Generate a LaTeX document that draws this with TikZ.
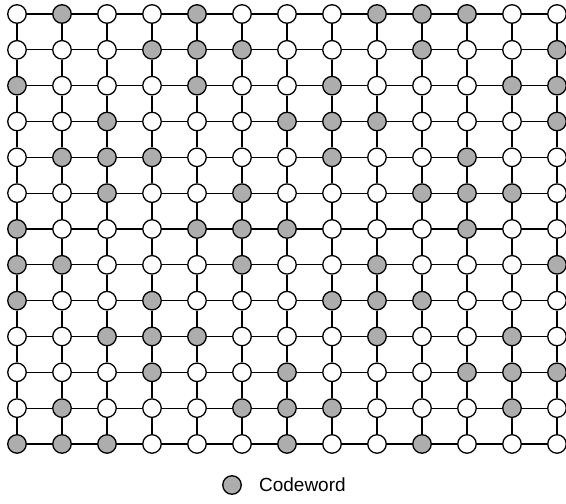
\documentclass[tikz,border=0pt]{standalone}
\usepackage{fontspec}
\setmainfont{Liberation Sans}
\usetikzlibrary{positioning}
\definecolor{dotgrey}{HTML}{ADADAD}
\tikzset{
  cell/.style={circle, draw, line width=1.3pt, minimum size=18.5pt, inner sep=0pt},
  ow/.style={cell, fill=white},
  cw/.style={cell, fill=dotgrey},
  link/.style={line width=1.1pt}
}

\begin{document}
\begin{tikzpicture}[x=45pt, y=-35.83pt]
    \useasboundingbox (-17pt,14pt) rectangle (549pt,-490pt);
    % Lattice points
    \foreach \r/\pat in {0/{ow,cw,ow,ow,cw,ow,ow,ow,cw,cw,cw,ow,ow},
                         1/{ow,ow,ow,cw,cw,cw,ow,ow,ow,cw,ow,ow,cw},
                         2/{cw,ow,ow,ow,cw,ow,ow,cw,ow,ow,ow,cw,cw},
                         3/{ow,ow,cw,ow,ow,ow,cw,cw,cw,ow,ow,ow,cw},
                         4/{ow,cw,cw,cw,ow,ow,ow,cw,ow,ow,cw,ow,ow},
                         5/{ow,ow,cw,ow,ow,cw,ow,ow,ow,cw,cw,cw,ow},
                         6/{cw,ow,ow,ow,cw,cw,cw,ow,ow,ow,cw,ow,ow},
                         7/{cw,cw,ow,ow,ow,cw,ow,ow,cw,ow,ow,ow,cw},
                         8/{cw,ow,ow,cw,ow,ow,ow,cw,cw,cw,ow,ow,ow},
                         9/{ow,ow,cw,cw,cw,ow,ow,ow,cw,ow,ow,cw,ow},
                        10/{ow,ow,ow,cw,ow,ow,cw,ow,ow,ow,cw,cw,cw},
                        11/{ow,cw,ow,ow,ow,cw,cw,cw,ow,ow,ow,cw,ow},
                        12/{cw,cw,cw,ow,ow,ow,cw,ow,ow,cw,ow,ow,ow}}
      \foreach \s [count=\c from 0] in \pat
        \node[\s] (n-\r-\c) at (\c,\r) {};
    % Horizontal links
    \foreach \r in {0,...,12}
      \foreach \c [count=\cnext from 1] in {0,...,11}
        \draw[link] (n-\r-\c) -- (n-\r-\cnext);
    % Vertical links
    \foreach \r [count=\rnext from 1] in {0,...,11}
      \foreach \c in {0,...,12}
        \draw[link] (n-\r-\c) -- (n-\rnext-\c);
    % Legend
    \node[cw] (key) at (215pt,-471pt) {};
    \node[right=17pt of key, inner sep=0pt, font=\fontsize{19}{22}\selectfont] (keytext) {Codeword};
\end{tikzpicture}
\end{document}
